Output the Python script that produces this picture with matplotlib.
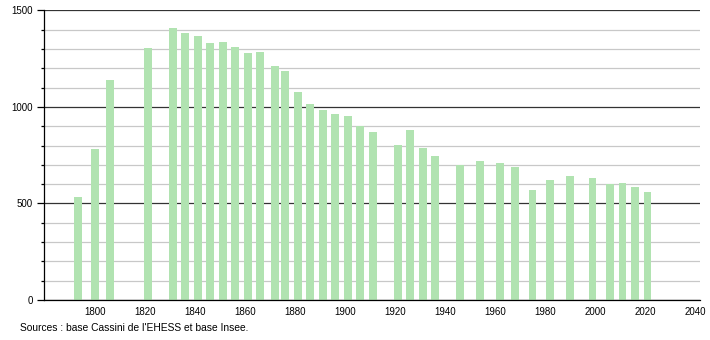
import matplotlib
matplotlib.use("Agg")
import matplotlib.pyplot as plt
from matplotlib.ticker import MultipleLocator

# census years and population
years = [1793, 1800, 1806, 1821, 1831, 1836, 1841, 1846, 1851, 1856,
         1861, 1866, 1872, 1876, 1881, 1886, 1891, 1896, 1901, 1906,
         1911, 1921, 1926, 1931, 1936, 1946, 1954, 1962, 1968, 1975,
         1982, 1990, 1999, 2006, 2011, 2016, 2021]
population = [535, 782, 1141, 1303, 1407, 1383, 1369, 1333, 1338, 1310,
              1281, 1286, 1212, 1188, 1077, 1015, 984, 963, 955, 901,
              872, 803, 880, 787, 747, 697, 720, 709, 689, 570,
              621, 644, 632, 602, 606, 585, 559]

x_ticks = list(range(1800, 2041, 20))
y_ticks = [0, 500, 1000, 1500]
source = "Sources : base Cassini de l'EHESS et base Insee."

plt.rcParams['font.family'] = ['Liberation Sans', 'DejaVu Sans']

fig = plt.figure(figsize=(7.1, 3.4), dpi=100)
ax = fig.add_axes([0.062, 0.1176, 0.924, 0.852])

# grid lines first, bars on top
ax.set_axisbelow(True)
ax.yaxis.set_minor_locator(MultipleLocator(100))
ax.grid(axis="y", which="minor", color="#c8c8c8", linewidth=0.9)
ax.grid(axis="y", which="major", color="#333333", linewidth=0.9)

ax.bar(years, population, width=3.1, color="#b1e3b1", linewidth=0)

ax.set_xlim(1779.5, 2042)
ax.set_ylim(0, 1500)
ax.set_xticks(x_ticks)
ax.set_yticks(y_ticks)

ax.tick_params(axis="x", length=0, labelsize=7, pad=5)
ax.tick_params(axis="y", which="major", length=5, width=0.9, labelsize=7, pad=3)
ax.tick_params(axis="y", which="minor", length=2.5, width=0.9)

for side in ["top", "right"]:
    ax.spines[side].set_visible(False)
ax.spines["left"].set_linewidth(0.9)
ax.spines["bottom"].set_linewidth(0.9)

fig.text(0.028, 0.036, source, fontsize=7.4, va="center", ha="left")

fig.savefig("out.png", dpi=100)
